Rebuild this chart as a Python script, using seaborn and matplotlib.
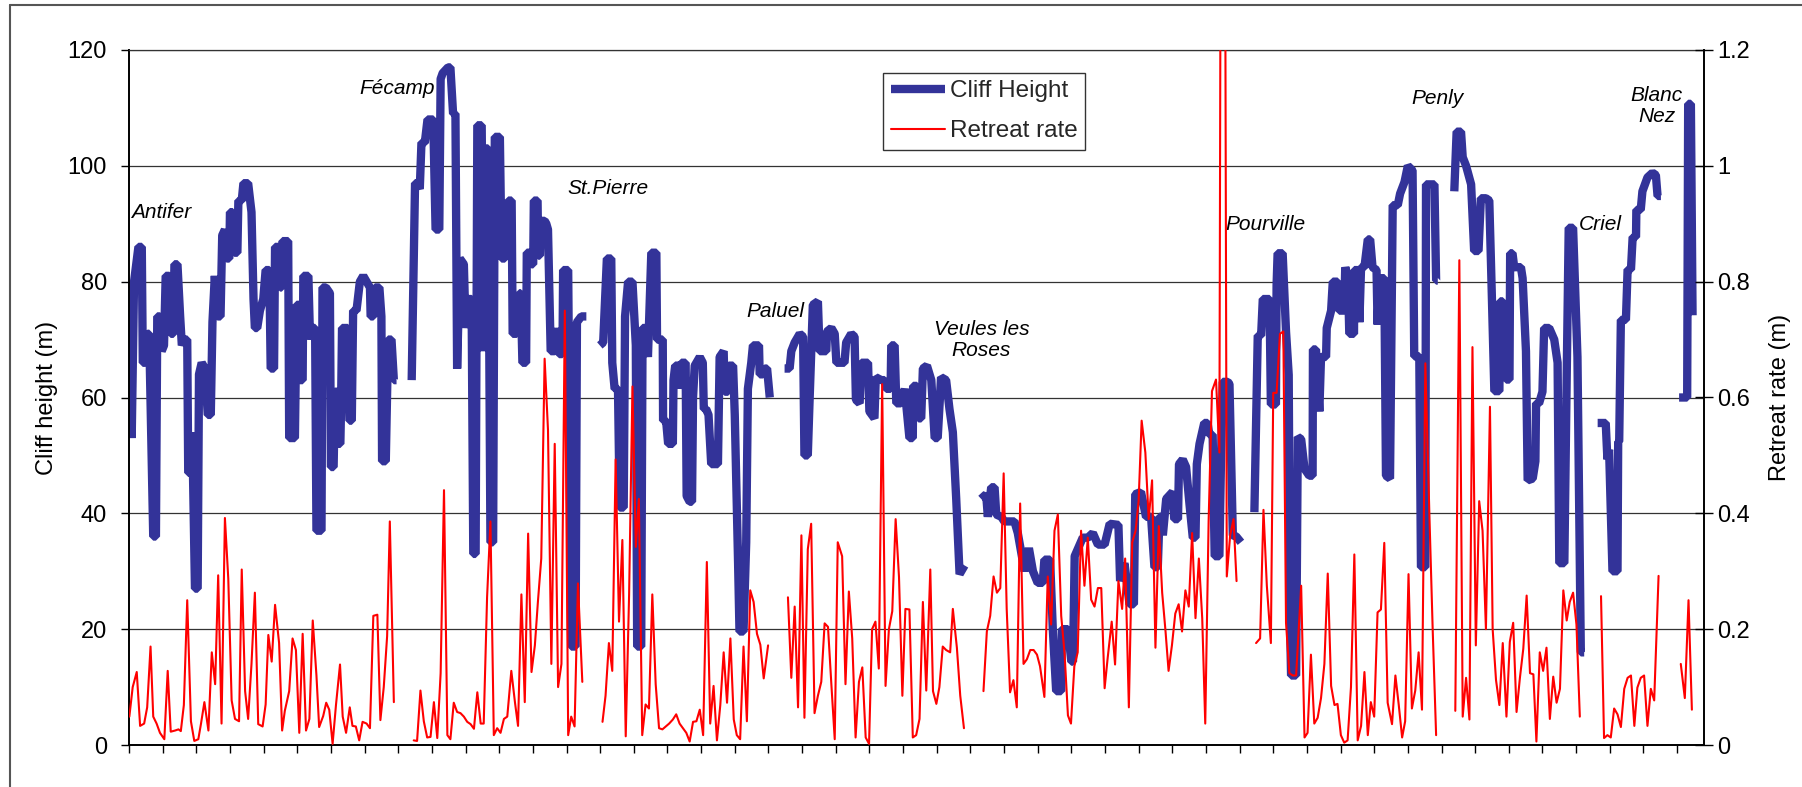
import matplotlib
matplotlib.use("Agg")
import matplotlib.pyplot as plt
import numpy as np
import pandas as pd
import seaborn as sns
from matplotlib.lines import Line2D

# ---------------- data ----------------
# distance along the coast (profile index) and cliff height (m); None = gap in record
height_x = [
    0.3,0.8,1.5,2.8,3.8,4.1,4.8,5.5,6.0,7.2,
    8.0,8.4,9.2,9.7,10.4,10.9,12.0,12.4,13.2,13.5,
    14.4,15.2,15.7,16.4,17.3,17.6,18.4,18.8,19.6,20.4,
    20.8,21.6,22.6,23.4,24.3,24.8,25.5,26.3,27.2,27.7,
    28.5,29.0,29.8,30.0,30.8,31.3,32.2,32.5,33.5,34.0,
    35.4,36.4,37.0,37.4,38.1,38.9,39.9,40.6,41.7,42.1,
    43.1,43.4,44.4,44.9,45.4,45.6,47.3,47.6,49.3,49.8,
    50.5,50.8,51.6,51.8,53.3,53.8,54.3,55.3,55.7,57.2,
    57.5,58.5,59.7,60.0,60.8,61.2,61.8,62.2,62.8,63.0,
    63.3,65.0,65.5,66.2,66.6,67.6,68.6,69.6,70.6,71.6,
    71.8,72.6,73.1,74.4,75.0,75.2,76.3,77.0,78.0,78.7,
    79.5, None,
    84.0,85.0,85.6,86.4,86.9,87.9,88.7,90.4,91.1,92.2,
    92.6,93.2,94.8,95.5,96.3,97.0,97.5,98.3,99.5,100.0,
    100.8,101.8,102.3,103.0,103.5,104.8,105.3,105.8,106.7,107.4,
    108.2,108.7,110.2,110.7,111.7,112.7,113.7,114.0,115.2,116.0,
    116.4,116.9,118.0,118.2,119.1,119.6,120.1,120.3,121.4,121.6,
    122.1,122.3,123.5,124.0,124.5,125.3,126.5,127.0,127.8,128.8,
    129.0,130.5,131.4,132.7,133.1,134.4,135.9, None,
    139.9,140.9,142.0,143.3,143.6,144.3,145.3,145.8,147.0,147.4,
    148.3,149.6,150.6,151.0,152.2,152.6,153.4,154.2,155.2,156.7,
    156.9,158.6,158.7,159.6,160.2,161.6,161.8,162.3,163.4,163.6,
    164.1,165.4,165.7,166.6,167.3,167.6,168.1,169.6,170.5,170.8,
    171.5,172.2,173.0,175.0,175.5,176.7,177.0,178.0,178.2,179.5,
    180.0,181.0,181.4,182.6,183.4,183.9,184.9,185.4,187.2,187.4,
    188.4,188.9,189.6,190.4, None,
    194.8,196.3,196.8,197.8,199.3,200.3,200.7,201.7,202.2,203.2,
    204.7,205.2,207.2,207.4,208.7,209.7,210.2,211.1,212.6,213.1,
    214.6,215.6,216.0,217.1,217.6,219.6,220.0,221.5,221.9,223.5,
    224.5,225.0,226.3,226.5,227.5,228.0,229.4,230.5,231.9,232.9,
    233.0,234.1,234.6,235.4,235.9,237.1,238.4,239.4,240.3,241.3,
    242.8,243.8,244.8,245.8,246.8,248.3, None,
    253.2,254.7,255.2,256.2,257.2,257.7,259.2,260.1,263.1,264.1,
    266.1,267.4,268.6,270.0,271.5,272.0,273.7,274.5,275.5,277.0,
    277.2,279.0,280.0,280.5,281.0,281.9,283.4,284.9,286.4,287.9,
    289.9,291.4,294.0,294.5,295.8,297.3,298.6,299.0,300.7,302.2,
    303.7,304.7,305.7,306.2,306.7,307.2,308.2,310.1,310.6,311.7,
    312.0,313.1,314.1,315.1,316.1,316.9,317.3,318.1,319.5,320.5,
    321.0,322.0,322.6,324.0,324.5,325.0,326.5,327.0,328.0,329.0,
    330.4, None,
    334.4,335.4,336.4,336.9,338.9,339.3,340.8,341.0,341.3,342.8,
    343.8,344.6,345.0,345.3,346.8,347.3,348.3,349.3,350.7,351.7,
    351.8,352.7,353.7,354.2,355.7,355.9,357.2,357.7,359.1,359.6,
    361.1,361.4,362.2,362.6,364.0,364.1,365.1,365.6,366.1,367.1,
    368.1,368.8,369.5,370.7,371.0,371.5,373.0,373.5,374.7,375.0,
    375.5,377.0,377.7,379.0,380.0,381.4,381.9,383.4,383.9,385.2,
    385.4,387.9,388.4,388.9, None,
    393.8,394.5,395.8,396.3,397.3,398.8,399.7,401.0,401.7,403.2,
    404.2,404.7,405.7,407.2,407.4,408.2,409.2,410.2,410.4,411.1,
    411.6,413.6,414.1,415.1,415.6,417.1,417.9,418.1,419.0,420.0,
    420.5,422.0,423.5,424.5,425.0,426.5,427.2,427.8,429.1,430.4,
    431.4,432.4, None,
    436.4,438.8,439.3,439.8,440.8,442.3,442.5,442.8,443.3,444.8,
    445.3,446.3,446.8,447.8,447.9,449.2,449.7,451.2,452.7,453.7,
    454.2,455.2, None,
    460.6,463.0,463.3,464.1,464.6,
]
height_m = [
    62,53,80,86,86,66,66,71,71,36,
    36,74,74,68,69,81,81,71,71,83,
    83,74,69,70,70,47,47,54,27,27,
    64,66,65,57,57,73,81,74,74,88,
    89,84,84,92,92,85,85,94,94,97,
    97,92,77,72,72,75,77,82,82,65,
    65,86,86,79,79,87,87,53,53,76,
    76,63,63,81,81,70,72,72,37,37,
    79,79,78,48,48,61,61,52,52,58,
    72,72,56,56,75,75,80,81,80,79,
    74,74,79,79,74,49,49,70,70,63,
    63, None,
    63,97,97,96,104,104,108,108,89,89,
    115,116,117,117,109,109,65,84,83,72,
    77,77,33,33,107,107,68,103,103,35,
    35,105,105,84,84,94,94,71,71,78,
    78,66,66,85,85,83,83,94,94,84.5,
    84.5,90.5,90.5,90,89,68,68,72,67.5,67.5,
    82,82,17,17,73,74,74, None,
    69,69.5,84,84,66,61.5,61.5,41,41,74,
    80,80,69,17,17,72,72,67,85,85,
    70,70,56,56,52,52,63,65.5,65.5,61.5,
    66,66,43,42,42,60,65.5,67,66,58,
    58,57,48.5,48.5,67,68,61,61,65.5,65.5,
    57,31,19.6,19.6,35,61.5,66,69,69,64,
    64,65,65,60, None,
    65,65,68,69.5,71,70.5,50,50,59,76,
    76.6,68,68,71.4,72,71,66,66,66,69.5,
    71,70.5,59.6,59,66,66,57.6,56.4,63.5,63,
    63,61.5,61.5,69,69,59,59,61.5,53,53,
    62,62,56.4,56.4,65,65.5,63,53,53,63.5,
    63,58,54,42.5,29.5,31, None,
    42.5,43.3,39.4,44.5,44.5,39.8,39.4,38.6,38.6,36.6,
    30,34,30,28,28,32,32,20,9.3,9.3,
    20,20,14.4,14.4,32.6,33.8,35.8,35.8,36.6,34.6,
    34.6,38.2,38,28.3,31.4,24.3,24.3,43.3,43.7,39.4,
    39.4,30.7,30.7,39.4,39.4,36.2,42.5,43.7,39,39,
    48.5,49.3,48,41.7,35.8,35.8,48.5,52,55.6,55.6,
    53.6,53.6,32.6,32.6,50,62.7,62.7,62.3,36.2,36,
    35, None,
    40.2,70.7,70.7,77,77,58.8,58.8,79.4,84.9,84.9,
    71.4,63.9,21,12,12,53.2,52.8,47.7,46.5,46.5,
    68.3,68.3,57.6,67,67,72,75,80,80,75,
    75,82.5,80.6,71,71,82,82,73,82.5,82.5,
    87.3,87.3,82.5,82,72.6,80.6,80.6,46.5,46,63.5,
    93.2,93.2,95.2,97.2,100,99.2,67.1,67.1,30.7,30.7,
    96.8,96.8,80.2,80.2, None,
    95.6,105.9,105.9,101.5,100,96.8,85.3,85.3,94.4,94.4,
    94,83.3,61.1,61.1,76.6,76.6,63.1,63.1,84.9,84.9,
    82.5,82.5,80.6,68,45.7,46,49,59,59,61,
    72,72,70,66,31.4,31.4,63.5,89.3,89.3,67,
    16,16, None,
    55.6,55.6,49.3,51,30,30,52.4,52.4,73.4,73.4,
    82.1,82.1,87.7,87.7,92.4,92.4,95.6,98,98.8,98.4,
    94.8,94.8, None,
    60,60,110.7,110.7,74.2,
]

# retreat rate (m) at the same profile positions; None = gap
retreat_x = [
    0.1,1.1,2.3,3.3,4.5,5.4,6.4,7.2,8.2,9.2,
    10.5,11.5,12.4,13.7,14.7,15.4,16.3,17.3,18.4,19.4,
    20.6,21.4,22.4,23.6,24.6,25.6,26.5,27.5,28.5,29.5,
    30.5,31.5,32.7,33.5,34.5,35.4,36.4,37.4,38.4,39.7,
    40.6,41.4,42.4,43.4,44.6,45.5,46.3,47.6,48.6,49.6,
    50.6,51.6,52.6,53.6,54.6,55.7,56.5,57.7,58.6,59.5,
    60.5,61.5,62.7,63.5,64.5,65.6,66.4,67.4,68.4,69.4,
    70.6,71.6,72.6,73.8,74.7,75.7,76.7,77.5,78.7, None,
    84.6,85.6,86.6,87.6,88.6,89.6,90.6,91.6,92.6,93.6,
    94.6,95.5,96.5,97.5,98.5,99.5,100.5,101.5,102.5,103.5,
    104.5,105.4,106.4,107.4,108.4,109.4,110.4,111.4,112.4,113.6,
    114.7,115.6,116.6,117.6,118.6,119.6,120.6,121.5,122.5,123.5,
    124.5,125.5,126.5,127.5,128.5,129.5,130.5,131.4,132.4,133.4,
    134.7, None,
    140.7,141.6,142.6,143.6,144.6,145.6,146.6,147.6,148.6,149.6,
    150.6,151.5,152.5,153.5,154.5,155.5,156.5,157.5,158.5,159.5,
    160.5,161.6,162.6,163.6,164.6,165.6,166.6,167.6,168.6,169.6,
    170.6,171.7,172.7,173.7,174.7,175.7,176.7,177.7,178.7,179.7,
    180.6,181.6,182.6,183.6,184.6,185.6,186.6,187.6,188.6,189.9, None,
    195.8,196.8,197.8,198.8,199.8,200.7,201.7,202.7,203.7,204.7,
    205.7,206.7,207.7,208.7,209.7,210.6,211.9,212.9,213.9,214.9,
    215.9,216.9,217.9,218.9,219.9,220.8,221.8,222.8,223.8,224.8,
    225.8,226.8,227.8,228.8,229.8,230.7,231.9,232.9,233.9,234.9,
    235.9,236.9,238.1,238.9,239.9,240.8,241.8,242.8,244.0,244.8,
    246.0,247.0,248.1, None,
    253.9,254.9,255.9,256.9,257.9,258.9,259.9,260.8,261.8,262.8,
    263.8,264.8,265.8,266.8,267.8,268.8,269.8,270.7,272.0,273.0,
    274.0,275.0,276.0,277.0,278.0,279.0,279.9,280.9,281.9,282.9,
    283.9,284.9,285.9,286.9,287.9,288.9,289.9,290.8,292.0,293.0,
    294.0,295.1,296.0,297.1,298.1,299.1,300.0,300.9,302.0,303.0,
    304.0,305.0,306.0,307.0,308.0,308.9,309.9,310.9,311.9,312.9,
    313.9,314.9,315.9,316.9,317.9,318.9,319.8,320.8,321.8,323.0,
    324.0,325.0,326.2,327.2,328.2,329.1, None,
    334.9,336.1,337.1,338.1,339.3,340.0,341.0,342.0,343.0,343.8,
    344.8,345.8,346.8,348.3,349.3,350.2,351.2,352.2,353.2,354.2,
    355.2,356.2,357.2,358.2,359.1,360.1,361.1,362.1,363.1,364.1,
    365.1,366.1,367.1,368.1,369.0,370.0,371.0,372.0,373.0,374.0,
    375.3,376.3,377.3,378.3,379.2,380.2,381.2,382.2,383.2,384.2,
    385.2,386.4,387.4,388.4, None,
    394.1,395.3,396.3,397.3,398.3,399.2,400.2,401.2,402.2,403.2,
    404.4,405.2,406.2,407.2,408.2,409.3,410.3,411.3,412.3,413.3,
    414.3,415.3,416.3,417.3,418.2,419.2,420.2,421.2,422.2,423.2,
    424.2,425.2,426.2,427.2,428.1,429.1,430.1,431.1, None,
    437.4,438.3,439.3,440.3,441.3,442.3,443.3,444.3,445.3,446.3,
    447.3,448.2,449.2,450.2,451.2,452.2,453.2,454.5, None,
    461.1,462.3,463.4,464.4,
]
retreat_rate = [
    0.049,0.10,0.126,0.033,0.037,0.065,0.17,0.049,0.037,0.021,
    0.010,0.128,0.023,0.025,0.027,0.024,0.069,0.25,0.041,0.007,
    0.010,0.037,0.074,0.025,0.16,0.105,0.293,0.037,0.392,0.287,
    0.077,0.045,0.041,0.303,0.093,0.045,0.14,0.263,0.036,0.032,
    0.07,0.19,0.144,0.242,0.176,0.025,0.059,0.093,0.184,0.164,
    0.021,0.192,0.025,0.045,0.215,0.12,0.031,0.05,0.073,0.061,
    0.002,0.069,0.139,0.049,0.021,0.065,0.033,0.032,0.008,0.040,
    0.037,0.029,0.223,0.225,0.043,0.10,0.188,0.386,0.074, None,
    0.008,0.007,0.094,0.041,0.013,0.014,0.074,0.012,0.124,0.44,
    0.017,0.010,0.073,0.057,0.055,0.049,0.040,0.036,0.028,0.091,
    0.037,0.037,0.255,0.386,0.017,0.029,0.021,0.045,0.049,0.128,
    0.073,0.033,0.26,0.074,0.365,0.126,0.172,0.247,0.322,0.667,
    0.544,0.14,0.52,0.10,0.14,0.75,0.017,0.049,0.032,0.279,
    0.109, None,
    0.04,0.085,0.176,0.128,0.493,0.213,0.354,0.015,0.259,0.619,
    0.342,0.425,0.017,0.07,0.063,0.26,0.105,0.029,0.027,0.032,
    0.037,0.044,0.053,0.037,0.029,0.021,0.006,0.04,0.041,0.061,
    0.017,0.316,0.037,0.102,0.008,0.069,0.16,0.073,0.184,0.044,
    0.017,0.010,0.17,0.041,0.267,0.247,0.192,0.173,0.115,0.172, None,
    0.255,0.116,0.239,0.065,0.362,0.047,0.338,0.382,0.055,0.085,
    0.109,0.21,0.204,0.105,0.010,0.35,0.326,0.105,0.265,0.184,
    0.013,0.109,0.134,0.013,0.002,0.20,0.213,0.132,0.623,0.102,
    0.20,0.231,0.39,0.29,0.085,0.235,0.234,0.013,0.017,0.045,
    0.247,0.094,0.303,0.093,0.071,0.10,0.17,0.164,0.16,0.235,
    0.168,0.085,0.029, None,
    0.093,0.196,0.223,0.291,0.263,0.271,0.469,0.235,0.091,0.112,
    0.065,0.417,0.14,0.148,0.164,0.164,0.156,0.136,0.083,0.291,
    0.208,0.37,0.398,0.223,0.158,0.051,0.037,0.136,0.16,0.37,
    0.275,0.358,0.251,0.239,0.271,0.271,0.098,0.15,0.213,0.139,
    0.283,0.235,0.322,0.065,0.35,0.37,0.421,0.56,0.505,0.39,
    0.457,0.168,0.378,0.263,0.196,0.128,0.172,0.227,0.243,0.196,
    0.267,0.239,0.366,0.219,0.322,0.219,0.037,0.386,0.611,0.631,
    0.505,3.0,0.291,0.362,0.39,0.283, None,
    0.176,0.184,0.406,0.275,0.176,0.608,0.608,0.71,0.714,0.211,
    0.124,0.12,0.12,0.275,0.013,0.021,0.156,0.037,0.047,0.081,
    0.14,0.296,0.102,0.069,0.071,0.017,0.004,0.008,0.10,0.329,
    0.008,0.033,0.126,0.017,0.074,0.049,0.229,0.234,0.349,0.073,
    0.036,0.12,0.069,0.013,0.041,0.295,0.063,0.094,0.16,0.061,
    0.659,0.398,0.196,0.017, None,
    0.059,0.837,0.049,0.116,0.044,0.687,0.172,0.421,0.37,0.20,
    0.584,0.20,0.112,0.069,0.176,0.049,0.178,0.211,0.057,0.116,
    0.166,0.258,0.124,0.122,0.006,0.16,0.128,0.168,0.045,0.118,
    0.073,0.097,0.267,0.215,0.247,0.263,0.208,0.049, None,
    0.257,0.012,0.017,0.013,0.063,0.053,0.031,0.097,0.116,0.12,
    0.033,0.099,0.116,0.12,0.033,0.097,0.077,0.292, None,
    0.14,0.081,0.25,0.061,
]

site_names = ["Antifer", "Fécamp", "St.Pierre", "Paluel", "Veules les\nRoses",
              "Pourville", "Penly", "Criel", "Blanc\nNez"]
site_x = [0.5, 79.8, 142.4, 192.0, 253.3, 337.6, 388.8, 437.3, 454.0]
site_y = [92.0, 113.4, 96.0, 74.9, 69.9, 89.8, 111.6, 89.9, 110.3]
site_ha = ["left", "center", "center", "center", "center", "center", "center", "center", "center"]

assert len(height_x) == len(height_m)
assert len(retreat_x) == len(retreat_rate)


def to_segments(xs, ys):
    seg, rows = 0, []
    for x, y in zip(xs, ys):
        if x is None or y is None:
            seg += 1
            continue
        rows.append((x, y, seg))
    return pd.DataFrame(rows, columns=["x", "y", "seg"])


height_df = to_segments(height_x, height_m)
retreat_df = to_segments(retreat_x, retreat_rate)

# ---------------- style ----------------
sns.set_theme(style="white")
plt.rcParams["font.family"] = ["Liberation Sans", "DejaVu Sans"]

BLUE = "#333399"
RED = "#FF0000"
GRID = "#333333"

W, H = 1802, 787
fig = plt.figure(figsize=(W / 100, H / 100), dpi=100)
fig.patch.set_facecolor("white")
L, R, T, B = 129, 1704, 50, 745
ax = fig.add_axes([L / W, 1 - B / H, (R - L) / W, (B - T) / H])

sns.lineplot(data=height_df, x="x", y="y", units="seg", estimator=None, sort=False,
             color=BLUE, linewidth=6.0, ax=ax, legend=False)
for ln in ax.lines:
    ln.set_solid_joinstyle("bevel")
    ln.set_solid_capstyle("butt")

ax2 = ax.twinx()
sns.lineplot(data=retreat_df, x="x", y="y", units="seg", estimator=None, sort=False,
             color=RED, linewidth=1.5, ax=ax2, legend=False)

ax.set_xlim(0, 468)
ax.set_ylim(0, 120)
ax2.set_ylim(0, 1.2)
ax.set_xticks(np.arange(0, 461, 10))
ax.set_xticklabels([])
ax.set_yticks(np.arange(0, 121, 20))
ax.set_yticklabels([str(v) for v in range(0, 121, 20)])
r_ticks = [0, 0.2, 0.4, 0.6, 0.8, 1.0, 1.2]
ax2.set_yticks(r_ticks)
ax2.set_yticklabels(["0", "0.2", "0.4", "0.6", "0.8", "1", "1.2"])

ax.yaxis.grid(True, color=GRID, linewidth=0.9)
ax.xaxis.grid(False)
ax.set_axisbelow(True)

for a in (ax, ax2):
    for s in a.spines.values():
        s.set_visible(False)
ax.spines["left"].set_visible(True)
ax.spines["bottom"].set_visible(True)
ax.spines["top"].set_visible(True)
ax2.spines["right"].set_visible(True)
for s, w in ((ax.spines["left"], 1.4), (ax.spines["bottom"], 1.4), (ax2.spines["right"], 1.4)):
    s.set_color("black")
    s.set_linewidth(w)
ax.spines["top"].set_color(GRID)
ax.spines["top"].set_linewidth(0.9)

ax.tick_params(axis="y", left=True, direction="out", length=6, width=1, colors="black",
               labelsize=17, pad=10)
ax.tick_params(axis="x", bottom=True, direction="out", length=6, width=1, colors="black")
ax2.tick_params(axis="y", right=True, direction="inout", length=13, width=1, colors="black",
                labelsize=17, pad=3)

ax.set_xlabel("")
ax.set_ylabel("Cliff height (m)", fontsize=17, color="black")
ax.yaxis.set_label_coords(-0.045, 0.5)
ax2.set_ylabel("Retreat rate (m)", fontsize=17, color="black", rotation=90)
ax2.yaxis.set_label_coords(1.041, 0.5)

for name, x, y, ha in zip(site_names, site_x, site_y, site_ha):
    ax.text(x, y, name, ha=ha, va="center", fontsize=15, style="italic",
            color="black", linespacing=1.15)

handles = [Line2D([0], [0], color=BLUE, lw=6.0, solid_capstyle="butt"),
           Line2D([0], [0], color=RED, lw=1.5)]
leg = ax2.legend(handles, ["Cliff Height", "Retreat rate"], loc="upper left",
                 bbox_to_anchor=(0.479, 0.967), borderaxespad=0, frameon=True,
                 fancybox=False, shadow=False, framealpha=1, edgecolor="#333333",
                 fontsize=17.5, handlelength=2.25, handletextpad=0.2,
                 borderpad=0.3, labelspacing=0.75)
leg.get_frame().set_linewidth(1.0)

# chart-area border (top and left edges visible in the original)
fig.add_artist(Line2D([10 / W, 10 / W], [0, 1 - 5 / H], transform=fig.transFigure,
                      color="#555555", lw=1.5))
fig.add_artist(Line2D([10 / W, 1], [1 - 5 / H, 1 - 5 / H], transform=fig.transFigure,
                      color="#555555", lw=1.5))

fig.savefig("out.png", dpi=100, facecolor="white")
